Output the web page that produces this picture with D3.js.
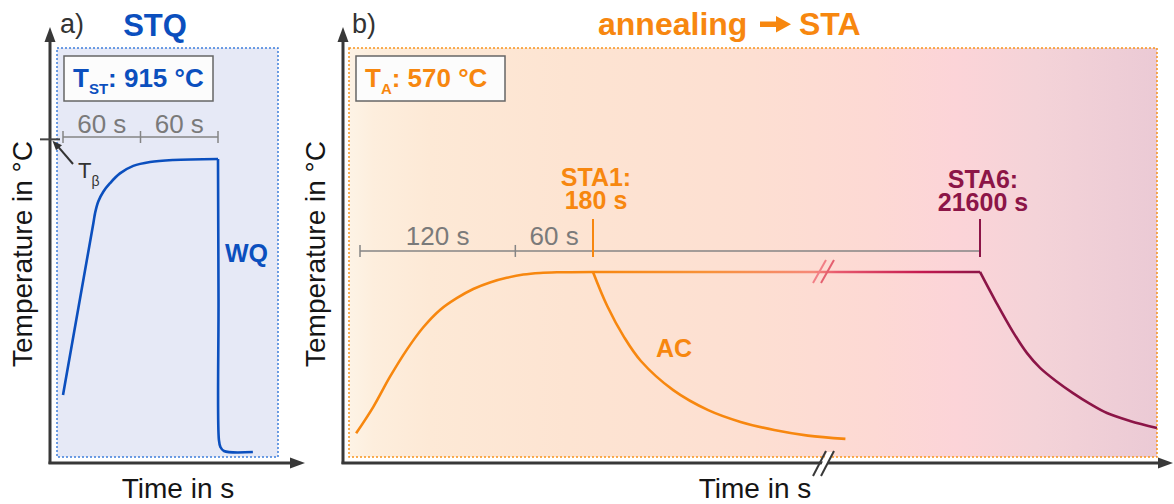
<!DOCTYPE html>
<html>
<head>
<meta charset="utf-8">
<script src="https://cdn.jsdelivr.net/npm/d3@7"></script>
<style>
  html, body { margin: 0; padding: 0; background: #fff; }
  svg { display: block; font-family: "Liberation Sans", Arial, Helvetica, sans-serif; }
</style>
</head>
<body>
<svg id="chart" width="1174" height="504"></svg>
<script>
// ---- a) solution treatment + water quench (STQ) ----
const stqTime = [0, 12, 23.5, 24.8, 27.3, 31.2, 36.4, 44.1, 54.4, 67.4, 85.4, 120, 120.4, 120.7, 121.9, 124.6, 147];
const stqTemp = [194, 462, 719, 749, 785, 815, 841, 871, 894, 906, 912, 915, 484, 57, 35, 23, 20];
const stqHoldTemp = 915;
const stqHoldEnd = 120;
const betaTransus = 975;
const stqSteps = [0, 60, 120];
const stqStepLabels = ["60 s", "60 s"];

// ---- b) annealing (STA), air cooling after the hold ----
const annealTemp = 570;
const staHeatTime = [-3, 10.3, 23.2, 36.1, 48.9, 61.8, 74.7, 87.5, 100.4, 113.3, 126.2, 139.1, 152, 180];
const staHeatTemp = [77, 158, 250, 332, 401, 454, 490, 518, 538, 552, 562, 567, 569, 570];
const sta1Time = [180, 191, 204, 217, 242, 269, 294, 320, 346, 375];
const sta1Temp = [570, 466, 371, 298, 209, 148, 112, 87, 70, 60];
const sta6Time = [21600, 21612.4, 21625.5, 21636.4, 21646.5, 21658.8, 21672, 21685.2, 21698.3, 21716.1, 21737];
const sta6Temp = [570, 478, 387, 322, 277, 237, 200, 167, 139, 115, 93];
const staSteps = [0, 120, 180];
const staStepLabels = ["120 s", "60 s"];
const sta1Hold = 180;
const sta6Hold = 21600;

// colours
const BLUE = "#0b4fbe", ORANGE = "#f7870f", MAROON = "#8c1547", AXIS = "#383838", GREY = "#858585";

const svg = d3.select("#chart");
const defs = svg.append("defs");

// shared temperature scale, time scales per panel (b has a broken time axis)
const y = d3.scaleLinear().domain([20, 915]).range([452, 159]);
const xA = d3.scaleLinear().domain([0, 120]).range([63, 218]);
const xB = d3.scaleLinear().domain([0, 180]).range([360, 593]);
const xB6 = d3.scaleLinear().domain([21600, 21720]).range([980, 1135]);

const zip = (t, v) => t.map((d, i) => [d, v[i]]);
const lineFor = xs => d3.line().x(d => xs(d[0])).y(d => y(d[1])).curve(d3.curveCatmullRom.alpha(0.5));

// ---------- backgrounds ----------
svg.append("rect").attr("x", 57).attr("y", 48).attr("width", 221).attr("height", 409)
  .attr("fill", "#e6e9f6").attr("stroke", "#3f7fdc").attr("stroke-width", 1.5).attr("stroke-dasharray", "2 2");

const bg = defs.append("linearGradient").attr("id", "bgB")
  .attr("gradientUnits", "userSpaceOnUse").attr("x1", 349).attr("x2", 1157).attr("y1", 0).attr("y2", 0);
[[0, "#fdf3e6"], [0.03, "#fdeedd"], [0.1, "#fde9d6"], [0.27, "#fde4d2"], [0.5, "#fddfd2"],
 [0.65, "#fdd9d4"], [0.75, "#fcd4d8"], [0.85, "#f4d3d8"], [0.95, "#eecdd6"], [1, "#ebcad5"]]
  .forEach(([o, c]) => bg.append("stop").attr("offset", o).attr("stop-color", c));

svg.append("rect").attr("x", 349).attr("y", 48).attr("width", 808).attr("height", 409)
  .attr("fill", "url(#bgB)").attr("stroke", "#f7941d").attr("stroke-width", 1.5).attr("stroke-dasharray", "2 2");

// ---------- axes with arrow heads ----------
function axes(x0, xEnd) {
  const g = svg.append("g");
  g.append("line").attr("x1", x0).attr("y1", 464).attr("x2", x0).attr("y2", 38)
    .attr("stroke", AXIS).attr("stroke-width", 3);
  g.append("line").attr("x1", x0 - 1.5).attr("y1", 463).attr("x2", xEnd - 10).attr("y2", 463)
    .attr("stroke", AXIS).attr("stroke-width", 3);
  g.append("path").attr("d", `M${x0},27 L${x0 + 5.5},42 L${x0 - 5.5},42 Z`).attr("fill", AXIS);
  g.append("path").attr("d", `M${xEnd},463 L${xEnd - 15},457.5 L${xEnd - 15},468.5 Z`).attr("fill", AXIS);
}
axes(50, 305);
axes(343, 1173);

// break marks on the time axis of panel b
const brk = svg.append("g");
brk.append("path").attr("d", "M817,475 L827,452 L833,452 L823,475 Z").attr("fill", "#fff");
[[813, 826], [821, 834]].forEach(([a, b]) =>
  brk.append("line").attr("x1", a).attr("y1", 476).attr("x2", b).attr("y2", 451)
    .attr("stroke", AXIS).attr("stroke-width", 2));

// ---------- axis titles ----------
[[32, 254], [325, 254]].forEach(([bx, cy]) =>
  svg.append("text").attr("transform", `translate(${bx},${cy}) rotate(-90)`)
    .attr("text-anchor", "middle").attr("font-size", 28).attr("fill", "#151515").text("Temperature in °C"));
[[178, 498], [755, 498]].forEach(([cx, by]) =>
  svg.append("text").attr("x", cx).attr("y", by).attr("text-anchor", "middle")
    .attr("font-size", 28).attr("fill", "#151515").text("Time in s"));

// panel letters and titles
svg.append("text").attr("x", 60).attr("y", 33).attr("font-size", 27).attr("fill", "#333").text("a)");
svg.append("text").attr("x", 352).attr("y", 33).attr("font-size", 27).attr("fill", "#333").text("b)");
svg.append("text").attr("x", 155).attr("y", 36).attr("text-anchor", "middle").attr("font-size", 31)
  .attr("font-weight", "bold").attr("fill", BLUE).text("STQ");
svg.append("text").attr("x", 598).attr("y", 35).attr("font-size", 32)
  .attr("font-weight", "bold").attr("fill", ORANGE).text("annealing");
svg.append("path").attr("d", "M760,21.5 H776 V16 L791,24.3 L776,32.6 V27.1 H760 Z").attr("fill", ORANGE);
svg.append("text").attr("x", 799).attr("y", 35).attr("font-size", 32)
  .attr("font-weight", "bold").attr("fill", ORANGE).text("STA");

// temperature boxes
function tempBox(x, label, sub, value, color) {
  svg.append("rect").attr("x", x).attr("y", 56).attr("width", 149).attr("height", 45)
    .attr("fill", "#fcfcfc").attr("stroke", "#666").attr("stroke-width", 1.5);
  const t = svg.append("text").attr("x", x + 9).attr("y", 87).attr("font-size", 26)
    .attr("font-weight", "bold").attr("fill", color);
  t.append("tspan").text(label);
  t.append("tspan").attr("font-size", 15).attr("dy", 6.5).text(sub);
  t.append("tspan").attr("dy", -6.5).text(`: ${value} °C`);
}
tempBox(64, "T", "ST", stqHoldTemp, BLUE);
tempBox(356, "T", "A", annealTemp, ORANGE);

// ---------- panel a ----------
const rulerA = y(stqHoldTemp) - 22;
svg.append("line").attr("x1", xA(stqSteps[0])).attr("x2", xA(stqSteps[stqSteps.length - 1]))
  .attr("y1", rulerA).attr("y2", rulerA).attr("stroke", GREY).attr("stroke-width", 1.5);
stqSteps.forEach(s => svg.append("line").attr("x1", xA(s)).attr("x2", xA(s))
  .attr("y1", rulerA - 6).attr("y2", rulerA + 6).attr("stroke", GREY).attr("stroke-width", 1.5));
stqStepLabels.forEach((l, i) => svg.append("text")
  .attr("x", (xA(stqSteps[i]) + xA(stqSteps[i + 1])) / 2).attr("y", rulerA - 4)
  .attr("text-anchor", "middle").attr("font-size", 26).attr("fill", "#7a7a7a").text(l));

// beta transus marker
svg.append("line").attr("x1", 40).attr("x2", 60).attr("y1", y(betaTransus)).attr("y2", y(betaTransus))
  .attr("stroke", "#444").attr("stroke-width", 2);
svg.append("line").attr("x1", 73).attr("y1", 164).attr("x2", 57).attr("y2", y(betaTransus) + 6)
  .attr("stroke", "#333").attr("stroke-width", 2);
svg.append("path").attr("d", `M52.5,${y(betaTransus) + 1.5} L62,${y(betaTransus) + 6} L56,${y(betaTransus) + 11} Z`).attr("fill", "#333");
const tb = svg.append("text").attr("x", 78).attr("y", 178).attr("font-size", 22).attr("fill", "#333");
tb.append("tspan").text("T");
tb.append("tspan").attr("font-size", 14).attr("dy", 8).text("β");

// heating/hold and quench drawn as two pieces so the corner at the hold end stays sharp
const stqPts = zip(stqTime, stqTemp);
const holdIdx = stqTime.indexOf(stqHoldEnd);
[stqPts.slice(0, holdIdx + 1), stqPts.slice(holdIdx)].forEach(seg =>
  svg.append("path").datum(seg).attr("d", lineFor(xA))
    .attr("fill", "none").attr("stroke", BLUE).attr("stroke-width", 2.6).attr("stroke-linejoin", "round"));
svg.append("text").attr("x", 225).attr("y", 262).attr("font-size", 25).attr("font-weight", "bold")
  .attr("fill", BLUE).text("WQ");

// ---------- panel b ----------
const rulerB = y(annealTemp) - 21;
svg.append("line").attr("x1", xB(staSteps[0])).attr("x2", xB6(sta6Hold))
  .attr("y1", rulerB).attr("y2", rulerB).attr("stroke", GREY).attr("stroke-width", 1.5);
staSteps.slice(0, 2).forEach(s => svg.append("line").attr("x1", xB(s)).attr("x2", xB(s))
  .attr("y1", rulerB - 6).attr("y2", rulerB + 6).attr("stroke", GREY).attr("stroke-width", 1.5));
staStepLabels.forEach((l, i) => svg.append("text")
  .attr("x", (xB(staSteps[i]) + xB(staSteps[i + 1])) / 2).attr("y", rulerB - 6)
  .attr("text-anchor", "middle").attr("font-size", 26).attr("fill", "#7a7a7a").text(l));

// hold-end markers with two-line labels
[[xB(sta1Hold), ORANGE, ["STA1:", `${sta1Hold} s`], 186],
 [xB6(sta6Hold), MAROON, ["STA6:", `${sta6Hold} s`], 188]].forEach(([x, c, lines, by]) => {
  svg.append("line").attr("x1", x).attr("x2", x).attr("y1", rulerB - 32).attr("y2", rulerB + 6)
    .attr("stroke", c).attr("stroke-width", 2);
  const t = svg.append("text").attr("y", by).attr("text-anchor", "middle").attr("font-size", 25)
    .attr("font-weight", "bold").attr("fill", c);
  lines.forEach((l, i) => t.append("tspan").attr("x", x + 3).attr("dy", i ? 22.5 : 0).text(l));
});

// hold line, colour shifts from orange to maroon with time
const hg = defs.append("linearGradient").attr("id", "hold")
  .attr("gradientUnits", "userSpaceOnUse").attr("x1", xB(sta1Hold)).attr("x2", xB6(sta6Hold)).attr("y1", 0).attr("y2", 0);
[[0, ORANGE], [0.3, "#f8923a"], [0.57, "#f6897a"], [0.63, "#e85a6e"], [0.85, "#c4194f"], [1, MAROON]]
  .forEach(([o, c]) => hg.append("stop").attr("offset", o).attr("stop-color", c));
svg.append("line").attr("x1", xB(sta1Hold)).attr("x2", xB6(sta6Hold))
  .attr("y1", y(annealTemp)).attr("y2", y(annealTemp)).attr("stroke", "url(#hold)").attr("stroke-width", 2.6);
[[813, 826, "#f27f86"], [821, 834, "#e4606f"]].forEach(([a, b, c]) =>
  svg.append("line").attr("x1", a).attr("y1", y(annealTemp) + 11).attr("x2", b).attr("y2", y(annealTemp) - 12)
    .attr("stroke", c).attr("stroke-width", 2));

svg.append("path").datum(zip(staHeatTime, staHeatTemp)).attr("d", lineFor(xB))
  .attr("fill", "none").attr("stroke", ORANGE).attr("stroke-width", 2.6);
svg.append("path").datum(zip(sta1Time, sta1Temp)).attr("d", lineFor(xB))
  .attr("fill", "none").attr("stroke", ORANGE).attr("stroke-width", 2.6);
svg.append("path").datum(zip(sta6Time, sta6Temp)).attr("d", lineFor(xB6))
  .attr("fill", "none").attr("stroke", MAROON).attr("stroke-width", 2.6);
svg.append("text").attr("x", 656).attr("y", 357).attr("font-size", 25).attr("font-weight", "bold")
  .attr("fill", ORANGE).text("AC");
</script>
</body>
</html>
